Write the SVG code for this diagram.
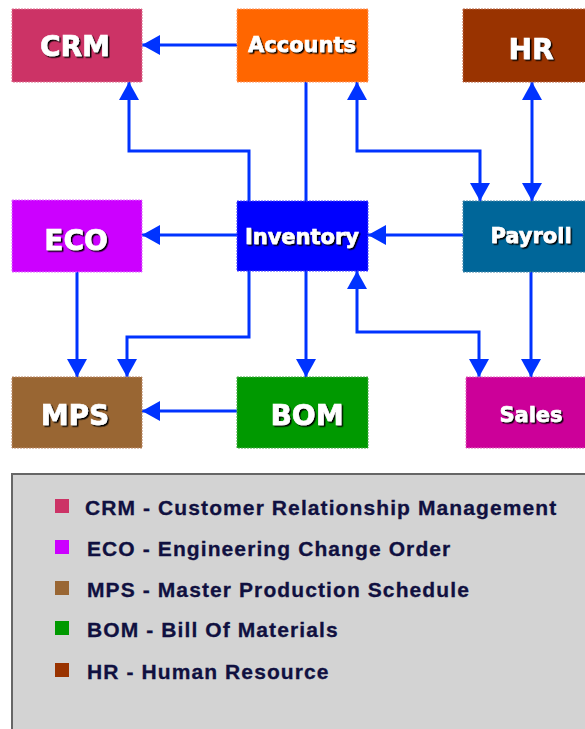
<svg xmlns="http://www.w3.org/2000/svg" width="585" height="729" viewBox="0 0 585 729">
<style>
.box{stroke-width:1;stroke-dasharray:2 1}
.lbl{font-family:"DejaVu Sans","Liberation Sans",sans-serif;font-weight:bold;fill:#fff;stroke:#fff;stroke-width:0.6;text-anchor:middle;filter:url(#sh)}
.big{font-size:28px}
.sm{font-size:21px}
.conn path{fill:none;stroke:#0033FF;stroke-width:3}
.leg{font-family:"Liberation Sans",Arial,sans-serif;font-weight:bold;font-size:21px;letter-spacing:1.1px;fill:#101040;stroke:#101040;stroke-width:0.3}
</style>
<defs>
<filter id="sh" x="-10%" y="-20%" width="130%" height="150%">
<feDropShadow dx="1.5" dy="1.5" stdDeviation="0.4" flood-color="#000" flood-opacity="1"/>
</filter>
<marker id="ah" markerUnits="userSpaceOnUse" markerWidth="18" markerHeight="20" viewBox="0 0 18 20" refX="18" refY="10" orient="auto-start-reverse">
<path d="M0,0 L18,10 L0,20 z" fill="#0033FF"/>
</marker>
</defs>
<rect width="585" height="729" fill="#fff"/>

<g id="connectors" class="conn">
<path d="M237,45 H142" marker-end="url(#ah)"/>
<path d="M249,201 V151 H129 V82" marker-end="url(#ah)"/>
<path d="M306,82 V201"/>
<path d="M357,82 V151 H480 V201" marker-start="url(#ah)" marker-end="url(#ah)"/>
<path d="M532,82 V201" marker-start="url(#ah)" marker-end="url(#ah)"/>
<path d="M237,235 H142" marker-end="url(#ah)"/>
<path d="M463,235 H368" marker-end="url(#ah)"/>
<path d="M77,272 V377" marker-end="url(#ah)"/>
<path d="M249,271 V337 H127 V377" marker-end="url(#ah)"/>
<path d="M306,271 V377" marker-end="url(#ah)"/>
<path d="M357,271 V332 H479 V377" marker-start="url(#ah)" marker-end="url(#ah)"/>
<path d="M531,272 V377" marker-end="url(#ah)"/>
<path d="M237,411 H142" marker-end="url(#ah)"/>
</g>

<g id="crm"><rect class="box" x="12" y="9" width="130" height="73" fill="#CC3366" stroke="#E07090"/><text class="lbl big" x="75" y="56">CRM</text></g>
<g id="accounts"><rect class="box" x="237" y="9" width="131" height="73" fill="#FF6600" stroke="#FF9966"/><text class="lbl sm" x="302" y="52">Accounts</text></g>
<g id="hr"><rect class="box" x="463" y="9" width="135" height="73" fill="#993300" stroke="#BB6644"/><text class="lbl big" x="531" y="59">HR</text></g>
<g id="eco"><rect class="box" x="12" y="200" width="130" height="72" fill="#CC00FF" stroke="#E070FF"/><text class="lbl big" x="76" y="250">ECO</text></g>
<g id="inventory"><rect class="box" x="237" y="201" width="131" height="70" fill="#0000FF" stroke="#4444FF"/><text class="lbl sm" x="302" y="244">Inventory</text></g>
<g id="payroll"><rect class="box" x="463" y="201" width="135" height="71" fill="#006699" stroke="#4488AA"/><text class="lbl sm" x="531" y="243">Payroll</text></g>
<g id="mps"><rect class="box" x="12" y="377" width="130" height="71" fill="#996633" stroke="#BB8866"/><text class="lbl big" x="75" y="425">MPS</text></g>
<g id="bom"><rect class="box" x="237" y="377" width="131" height="71" fill="#009900" stroke="#44AA44"/><text class="lbl big" x="307" y="425">BOM</text></g>
<g id="sales"><rect class="box" x="466" y="377" width="130" height="71" fill="#CC0099" stroke="#E066BB"/><text class="lbl sm" x="531" y="422">Sales</text></g>

<g id="legend">
<rect x="12" y="474" width="600" height="300" fill="#D3D3D3" stroke="#666" stroke-width="2"/>
<rect x="55" y="499" width="14" height="14" fill="#CC3366"/>
<text class="leg" x="85" y="515">CRM - Customer Relationship Management</text>
<rect x="55" y="540" width="14" height="14" fill="#CC00FF"/>
<text class="leg" x="87" y="556">ECO - Engineering Change Order</text>
<rect x="55" y="581" width="14" height="14" fill="#996633"/>
<text class="leg" x="87" y="597">MPS - Master Production Schedule</text>
<rect x="55" y="621" width="14" height="14" fill="#009900"/>
<text class="leg" x="87" y="637">BOM - Bill Of Materials</text>
<rect x="55" y="663" width="14" height="14" fill="#993300"/>
<text class="leg" x="87" y="679">HR - Human Resource</text>
</g>
</svg>
